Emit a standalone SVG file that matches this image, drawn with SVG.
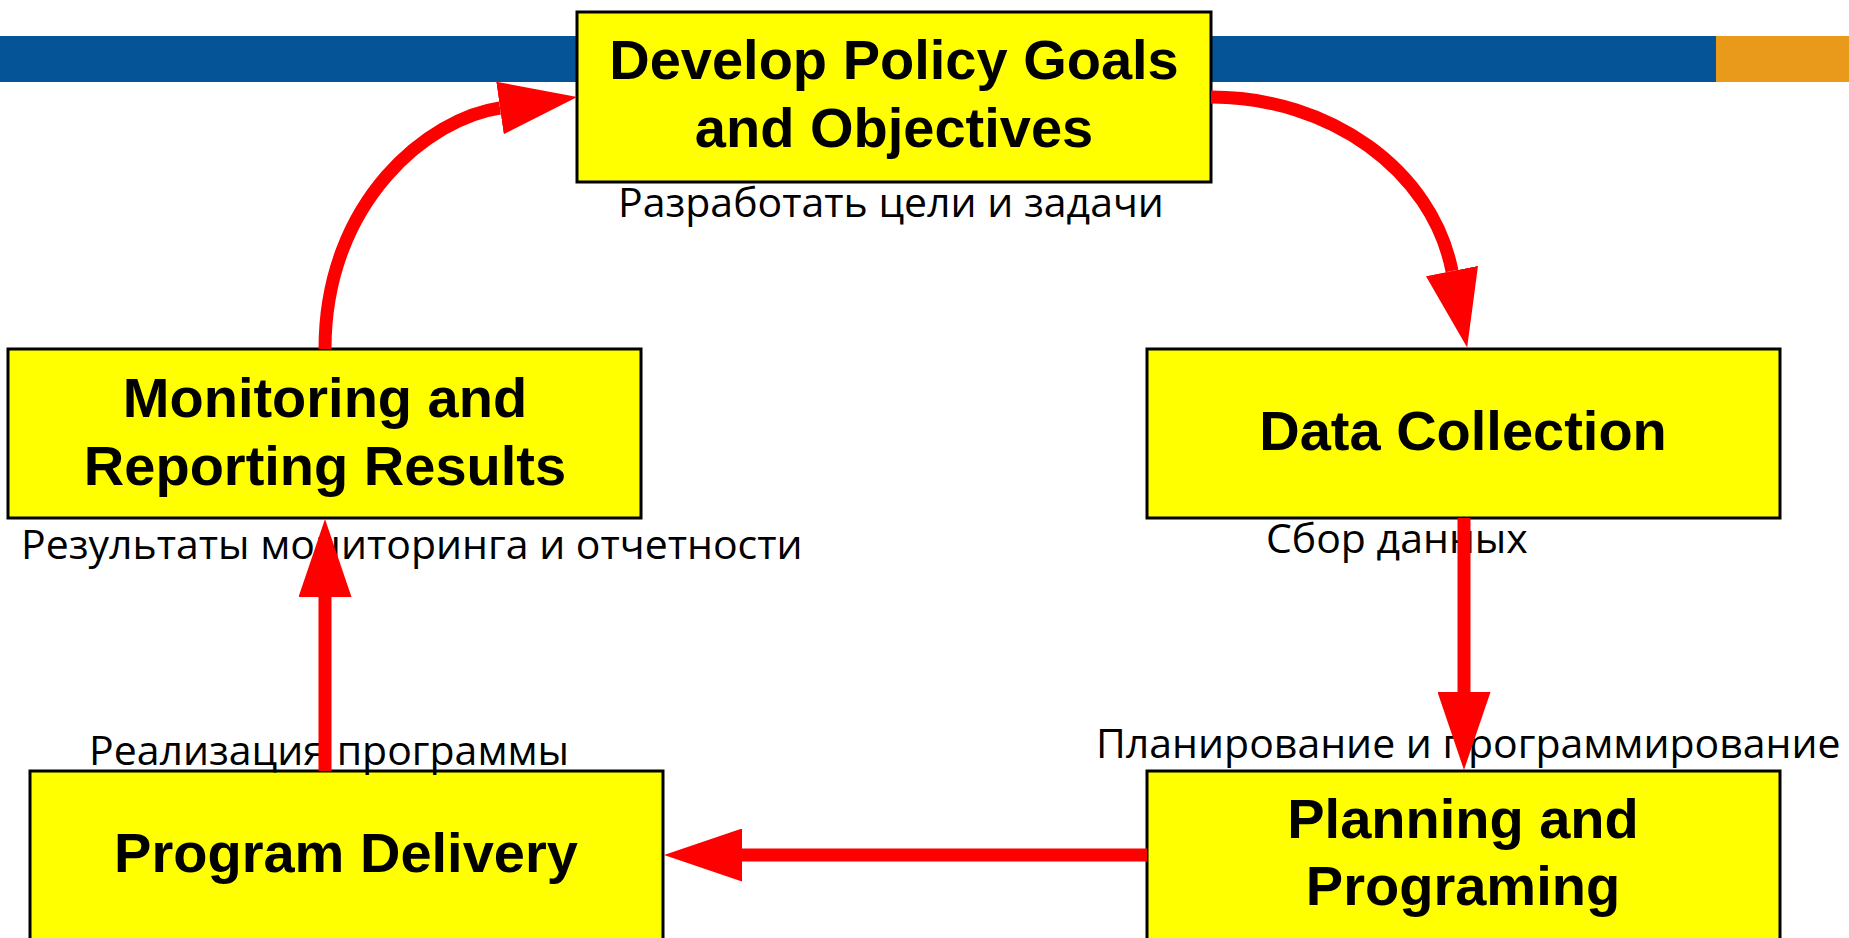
<svg xmlns="http://www.w3.org/2000/svg" width="1849" height="938" viewBox="0 0 1849 938">
<style>
.box{fill:#FFFF00;stroke:#000;stroke-width:3}
.title{font-family:"Liberation Sans",Arial,sans-serif;font-weight:bold;font-size:56px;fill:#000;text-anchor:middle}
.lbl{font-family:"Open Sans","Noto Sans",sans-serif;font-size:41px;fill:#000}
.conn{fill:none;stroke:#FF0000;stroke-width:13}
</style>
<defs>
<marker id="ah" viewBox="0 0 78 53" markerWidth="78" markerHeight="53" markerUnits="userSpaceOnUse" refX="0" refY="26.5" orient="auto">
<path d="M0,0 L78,26.5 L0,53 Z" fill="#FF0000"/>
</marker>
</defs>
<rect width="1849" height="938" fill="#fff"/>
<g id="banner">
<rect x="0" y="36" width="1716" height="46" fill="#045497"/>
<rect x="1716" y="36" width="133" height="46" fill="#E99A1A"/>
</g>
<g id="develop">
<rect class="box" x="577" y="12" width="634" height="170"/>
<text class="title" x="894" y="79">Develop Policy Goals</text>
<text class="title" x="894" y="147">and Objectives</text>
<text class="lbl" x="618" y="217">Разработать цели и задачи</text>
</g>
<g id="data">
<rect class="box" x="1147" y="349" width="633" height="169"/>
<text class="title" x="1463" y="450">Data Collection</text>
<text class="lbl" x="1266" y="553">Сбор данных</text>
</g>
<g id="planning">
<rect class="box" x="1147" y="771" width="633" height="200"/>
<text class="title" x="1463" y="838">Planning and</text>
<text class="title" x="1463" y="905">Programing</text>
<text class="lbl" x="1096" y="758">Планирование и программирование</text>
</g>
<g id="delivery">
<rect class="box" x="30" y="771" width="633" height="200"/>
<text class="title" x="346" y="872">Program Delivery</text>
<text class="lbl" x="89" y="765">Реализация программы</text>
</g>
<g id="monitoring">
<rect class="box" x="8" y="349" width="633" height="169"/>
<text class="title" x="325" y="417">Monitoring and</text>
<text class="title" x="325" y="485">Reporting Results</text>
<text class="lbl" x="21" y="559">Результаты мониторинга и отчетности</text>
</g>
<g id="connectors">
<path class="conn" d="M1211,97 C1330,97 1432,170 1452,271" marker-end="url(#ah)"/>
<path class="conn" d="M1464,518 L1464,692" marker-end="url(#ah)"/>
<path class="conn" d="M1147,855 L742,855" marker-end="url(#ah)"/>
<path class="conn" d="M325,771 L325,597" marker-end="url(#ah)"/>
<path class="conn" d="M325,349 C325,200 430,118 500,108" marker-end="url(#ah)"/>
</g>
</svg>
